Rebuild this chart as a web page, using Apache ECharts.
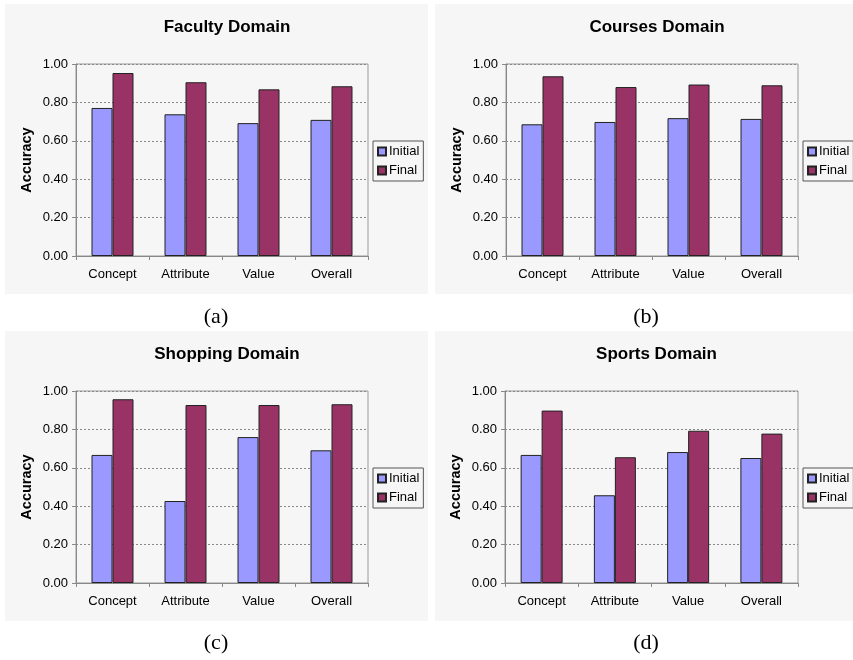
<!DOCTYPE html>
<html>
<head>
<meta charset="utf-8">
<script src="https://cdn.jsdelivr.net/npm/echarts@6/dist/echarts.min.js"></script>
<style>html,body{margin:0;padding:0;background:#fff}#c{width:853px;height:660px}</style>
</head>
<body>
<div id="c"></div>
<script>
const categories = ['Concept', 'Attribute', 'Value', 'Overall'];
const seriesNames = ['Initial', 'Final'];
const panelTitles = ['Faculty Domain', 'Courses Domain', 'Shopping Domain', 'Sports Domain'];
const captions = ['(a)', '(b)', '(c)', '(d)'];
const facultyInitial = [0.771, 0.738, 0.692, 0.709];
const facultyFinal = [0.953, 0.905, 0.868, 0.884];
const coursesInitial = [0.686, 0.698, 0.718, 0.714];
const coursesFinal = [0.936, 0.880, 0.893, 0.889];
const shoppingInitial = [0.667, 0.427, 0.760, 0.691];
const shoppingFinal = [0.957, 0.927, 0.927, 0.931];
const sportsInitial = [0.667, 0.457, 0.682, 0.651];
const sportsFinal = [0.898, 0.655, 0.793, 0.778];
const yMin = 0, yMax = 1, yInterval = 0.2;

const initialData = [facultyInitial, coursesInitial, shoppingInitial, sportsInitial];
const finalData = [facultyFinal, coursesFinal, shoppingFinal, sportsFinal];

const panels = [
  {bx: 5, by: 4, bw: 423, bh: 290, gl: 76, gt: 64, gw: 292, gh: 192, cx: 216, cy: 317},
  {bx: 435, by: 4, bw: 418, bh: 290, gl: 506, gt: 64, gw: 292, gh: 192, cx: 646, cy: 317},
  {bx: 5, by: 331, bw: 423, bh: 290, gl: 76, gt: 391, gw: 292, gh: 192, cx: 216, cy: 643},
  {bx: 435, by: 331, bw: 418, bh: 290, gl: 505, gt: 391, gw: 293, gh: 192, cx: 646, cy: 643}
];
const colors = ['#9999FF', '#993366'];
const font = 'Liberation Sans, Arial, sans-serif';

const option = {
  animation: false,
  backgroundColor: '#ffffff',
  graphic: [],
  title: [],
  legend: [],
  grid: [],
  xAxis: [],
  yAxis: [],
  series: []
};

panels.forEach((p, i) => {
  option.graphic.push({type: 'rect', z: -10, silent: true, shape: {x: p.bx, y: p.by, width: p.bw, height: p.bh}, style: {fill: '#f6f6f6'}});
  option.graphic.push({type: 'text', x: p.cx, y: p.cy, style: {text: captions[i], font: '22px "Liberation Serif", "DejaVu Serif", serif', fill: '#000', textAlign: 'center', textVerticalAlign: 'middle'}});
  option.title.push({text: panelTitles[i], left: p.gl + p.gw / 2, top: p.gt - 50, textAlign: 'center',
    textStyle: {fontFamily: font, fontWeight: 'bold', fontSize: 17, color: '#000'}});
  option.legend.push({orient: 'vertical', left: p.gl + p.gw + 5, top: p.gt + 77, data: seriesNames,
    borderColor: '#555', borderWidth: 1, padding: [4, 4, 4, 4], itemWidth: 8, itemHeight: 8, itemGap: 6,
    icon: 'rect', textStyle: {fontFamily: font, fontSize: 13, color: '#000', padding: [0, 0, 0, -2]}});
  option.grid.push({left: p.gl, top: p.gt, width: p.gw, height: p.gh, show: true, borderColor: '#999', borderWidth: 1, backgroundColor: 'transparent'});
  option.xAxis.push({type: 'category', gridIndex: i, data: categories,
    axisLine: {lineStyle: {color: '#888', width: 1}},
    axisTick: {show: true, length: 4, lineStyle: {color: '#888'}},
    axisLabel: {margin: 12, fontFamily: font, fontSize: 13, color: '#000'}});
  option.yAxis.push({type: 'value', gridIndex: i, min: yMin, max: yMax, interval: yInterval,
    name: 'Accuracy', nameLocation: 'middle', nameGap: 42, nameRotate: 90,
    nameTextStyle: {fontFamily: font, fontWeight: 'bold', fontSize: 14.5, color: '#000'},
    axisLine: {show: true, lineStyle: {color: '#888', width: 1}},
    axisTick: {show: true, length: 4, lineStyle: {color: '#888'}},
    axisLabel: {margin: 8, fontFamily: font, fontSize: 13, color: '#000', formatter: v => v.toFixed(2)},
    splitLine: {show: true, lineStyle: {color: '#888', type: [2, 2], width: 1}}});
  [initialData[i], finalData[i]].forEach((d, k) => {
    option.series.push({type: 'bar', name: seriesNames[k], xAxisIndex: i, yAxisIndex: i, data: d,
      barWidth: 21, barGap: '0%',
      itemStyle: {color: colors[k], borderColor: '#222', borderWidth: 1}});
  });
});

const chart = echarts.init(document.getElementById('c'), null, {renderer: 'canvas'});
chart.setOption(option);
</script>
</body>
</html>
